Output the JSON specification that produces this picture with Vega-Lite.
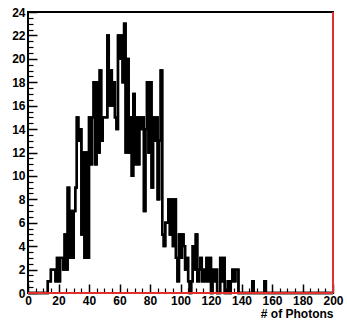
{
  "$schema": "https://vega.github.io/schema/vega-lite/v6.json",
  "autosize": "none",
  "width": 305,
  "height": 281,
  "padding": {"left": 28, "top": 12, "right": 14, "bottom": 27},
  "background": "white",
  "config": {
    "view": {"stroke": "black", "strokeWidth": 2},
    "font": "Liberation Sans",
    "axis": {"zindex": 1}
  },
  "datasets": {
    "hist": [
      {"x":0,"n":0},{"x":1,"n":0},{"x":2,"n":0},{"x":3,"n":0},{"x":4,"n":0},{"x":5,"n":0},{"x":6,"n":0},{"x":7,"n":0},{"x":8,"n":0},{"x":9,"n":0},
      {"x":10,"n":0},{"x":11,"n":0},{"x":12,"n":0},{"x":13,"n":1},{"x":14,"n":1},{"x":15,"n":2},{"x":16,"n":2},{"x":17,"n":2},{"x":18,"n":1},{"x":19,"n":3},
      {"x":20,"n":1},{"x":21,"n":3},{"x":22,"n":3},{"x":23,"n":2},{"x":24,"n":5},{"x":25,"n":2},{"x":26,"n":9},{"x":27,"n":3},{"x":28,"n":7},{"x":29,"n":3},
      {"x":30,"n":7},{"x":31,"n":9},{"x":32,"n":15},{"x":33,"n":13},{"x":34,"n":14},{"x":35,"n":5},{"x":36,"n":12},{"x":37,"n":3},{"x":38,"n":12},{"x":39,"n":3},
      {"x":40,"n":15},{"x":41,"n":11},{"x":42,"n":15},{"x":43,"n":18},{"x":44,"n":11},{"x":45,"n":18},{"x":46,"n":12},{"x":47,"n":19},{"x":48,"n":13},{"x":49,"n":15},
      {"x":50,"n":15},{"x":51,"n":15},{"x":52,"n":22},{"x":53,"n":16},{"x":54,"n":19},{"x":55,"n":16},{"x":56,"n":18},{"x":57,"n":15},{"x":58,"n":14},{"x":59,"n":22},
      {"x":60,"n":20},{"x":61,"n":22},{"x":62,"n":18},{"x":63,"n":23},{"x":64,"n":12},{"x":65,"n":20},{"x":66,"n":12},{"x":67,"n":15},{"x":68,"n":10},{"x":69,"n":17},
      {"x":70,"n":11},{"x":71,"n":15},{"x":72,"n":11},{"x":73,"n":15},{"x":74,"n":14},{"x":75,"n":15},{"x":76,"n":7},{"x":77,"n":14},{"x":78,"n":18},{"x":79,"n":12},
      {"x":80,"n":18},{"x":81,"n":9},{"x":82,"n":15},{"x":83,"n":13},{"x":84,"n":15},{"x":85,"n":8},{"x":86,"n":13},{"x":87,"n":19},{"x":88,"n":5},{"x":89,"n":4},
      {"x":90,"n":6},{"x":91,"n":6},{"x":92,"n":8},{"x":93,"n":5},{"x":94,"n":8},{"x":95,"n":4},{"x":96,"n":8},{"x":97,"n":3},{"x":98,"n":1},{"x":99,"n":5},
      {"x":100,"n":3},{"x":101,"n":5},{"x":102,"n":4},{"x":103,"n":2},{"x":104,"n":3},{"x":105,"n":1},{"x":106,"n":0},{"x":107,"n":1},{"x":108,"n":4},{"x":109,"n":2},
      {"x":110,"n":5},{"x":111,"n":1},{"x":112,"n":2},{"x":113,"n":3},{"x":114,"n":1},{"x":115,"n":2},{"x":116,"n":1},{"x":117,"n":3},{"x":118,"n":1},{"x":119,"n":3},
      {"x":120,"n":0},{"x":121,"n":2},{"x":122,"n":1},{"x":123,"n":2},{"x":124,"n":0},{"x":125,"n":0},{"x":126,"n":3},{"x":127,"n":1},{"x":128,"n":3},{"x":129,"n":0},
      {"x":130,"n":0},{"x":131,"n":1},{"x":132,"n":0},{"x":133,"n":1},{"x":134,"n":2},{"x":135,"n":1},{"x":136,"n":2},{"x":137,"n":2},{"x":138,"n":0},{"x":139,"n":0},
      {"x":140,"n":0},{"x":141,"n":0},{"x":142,"n":0},{"x":143,"n":0},{"x":144,"n":0},{"x":145,"n":0},{"x":146,"n":0},{"x":147,"n":1},{"x":148,"n":0},{"x":149,"n":0},
      {"x":150,"n":0},{"x":151,"n":0},{"x":152,"n":0},{"x":153,"n":0},{"x":154,"n":0},{"x":155,"n":1},{"x":156,"n":0},{"x":157,"n":0},{"x":158,"n":0},{"x":159,"n":0},
      {"x":160,"n":0},{"x":161,"n":0},{"x":162,"n":0},{"x":163,"n":0},{"x":164,"n":0},{"x":165,"n":0},{"x":166,"n":0},{"x":167,"n":0},{"x":168,"n":0},{"x":169,"n":0},
      {"x":170,"n":0},{"x":171,"n":0},{"x":172,"n":0},{"x":173,"n":0},{"x":174,"n":0},{"x":175,"n":0},{"x":176,"n":0},{"x":177,"n":0},{"x":178,"n":0},{"x":179,"n":0},
      {"x":180,"n":0},{"x":181,"n":0},{"x":182,"n":0},{"x":183,"n":0},{"x":184,"n":0},{"x":185,"n":0},{"x":186,"n":0},{"x":187,"n":0},{"x":188,"n":0},{"x":189,"n":0},
      {"x":190,"n":0},{"x":191,"n":0},{"x":192,"n":0},{"x":193,"n":0},{"x":194,"n":0},{"x":195,"n":0},{"x":196,"n":0},{"x":197,"n":0},{"x":198,"n":0},{"x":199,"n":0},
      {"x":200,"n":0}
    ]
  },
  "data": {"name": "hist"},
  "resolve": {"axis": {"x": "independent", "y": "independent"}},
  "layer": [
    {
      "mark": {"type": "line", "interpolate": "step-after", "color": "black", "strokeWidth": 2.4},
      "encoding": {
        "x": {
          "field": "x", "type": "quantitative",
          "scale": {"domain": [0, 200], "nice": false, "zero": false},
          "axis": {
            "orient": "bottom",
            "offset": -9,
            "values": [0,20,40,60,80,100,120,140,160,180,200],
            "labelOverlap": false,
            "labelFlush": false,
            "domain": false,
            "grid": false,
            "tickColor": "black",
            "tickWidth": 1.5,
            "tickSize": 9,
            "labelPadding": 2,
            "labelFontSize": 12,
            "labelFontWeight": "bold",
            "labelColor": "black",
            "title": "# of Photons",
            "titleAnchor": "end",
            "titleFontSize": 12,
            "titleFontWeight": "bold",
            "titleColor": "black",
            "titlePadding": 2
          }
        },
        "y": {
          "field": "n", "type": "quantitative",
          "scale": {"domain": [0, 24], "nice": false},
          "axis": {
            "orient": "left",
            "offset": -9,
            "values": [0,2,4,6,8,10,12,14,16,18,20,22,24],
            "labelOverlap": false,
            "labelFlush": false,
            "domain": false,
            "grid": false,
            "tickColor": "black",
            "tickWidth": 1.5,
            "tickSize": 9,
            "labelPadding": 3,
            "labelFontSize": 12,
            "labelFontWeight": "bold",
            "labelColor": "black",
            "title": null
          }
        }
      }
    },
    {
      "mark": {"type": "line", "interpolate": "step-after", "color": "black", "strokeWidth": 2.4},
      "encoding": {
        "x": {
          "field": "x", "type": "quantitative",
          "scale": {"domain": [0, 200], "nice": false, "zero": false},
          "axis": {
            "orient": "bottom",
            "offset": -5,
            "values": [5,10,15,25,30,35,45,50,55,65,70,75,85,90,95,105,110,115,125,130,135,145,150,155,165,170,175,185,190,195],
            "labels": false,
            "domain": false,
            "grid": false,
            "tickColor": "black",
            "tickWidth": 1.2,
            "tickSize": 5,
            "title": null
          }
        },
        "y": {
          "field": "n", "type": "quantitative",
          "scale": {"domain": [0, 24], "nice": false},
          "axis": {
            "orient": "left",
            "offset": -5,
            "values": [0.5,1,1.5,2.5,3,3.5,4.5,5,5.5,6.5,7,7.5,8.5,9,9.5,10.5,11,11.5,12.5,13,13.5,14.5,15,15.5,16.5,17,17.5,18.5,19,19.5,20.5,21,21.5,22.5,23,23.5],
            "labels": false,
            "domain": false,
            "grid": false,
            "tickColor": "black",
            "tickWidth": 1.2,
            "tickSize": 5,
            "title": null
          }
        }
      }
    },
    {
      "mark": {"type": "rule", "color": "#e03030", "strokeWidth": 1.2},
      "encoding": {"y": {"datum": 0, "type": "quantitative", "axis": null}}
    },
    {
      "mark": {"type": "rule", "color": "#e03030", "strokeWidth": 1.2},
      "encoding": {"x": {"datum": 200, "type": "quantitative", "axis": null}}
    }
  ]
}
